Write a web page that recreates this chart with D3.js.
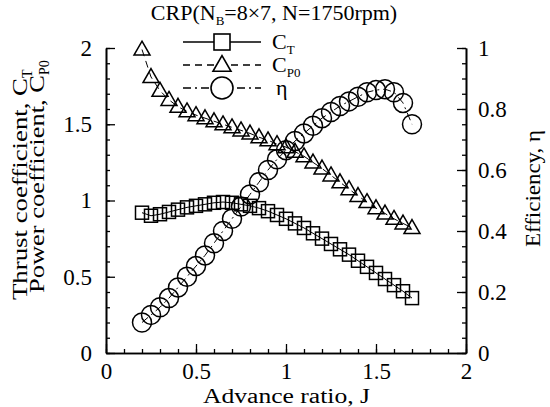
<!DOCTYPE html>
<html>
<head>
<meta charset="utf-8">
<script src="https://cdn.jsdelivr.net/npm/d3@7"></script>
<style>
  body { margin: 0; background: #fff; }
  svg { display: block; }
  svg text { font-family: "Liberation Serif", "Times New Roman", Times, "Nimbus Roman", "DejaVu Serif", serif; }
</style>
</head>
<body>
<svg id="chart" width="550" height="407"></svg>
<script>
// advance ratio J
const advance = [0.2, 0.25, 0.3, 0.35, 0.4, 0.45, 0.5, 0.55, 0.6, 0.65, 0.7, 0.75, 0.8, 0.85, 0.9, 0.95,
  1.0, 1.05, 1.1, 1.15, 1.2, 1.25, 1.3, 1.35, 1.4, 1.45, 1.5, 1.55, 1.6, 1.65, 1.7];
// thrust coefficient C_T
const thrust = [0.92, 0.9, 0.91, 0.925, 0.94, 0.955, 0.965, 0.975, 0.985, 0.99, 0.985, 0.975, 0.965, 0.95, 0.93, 0.905,
  0.88, 0.85, 0.82, 0.785, 0.75, 0.715, 0.68, 0.645, 0.605, 0.565, 0.525, 0.485, 0.445, 0.405, 0.36];
// power coefficient C_P0
const power = [1.99, 1.81, 1.72, 1.66, 1.615, 1.585, 1.56, 1.54, 1.52, 1.5, 1.48, 1.46, 1.44, 1.415, 1.395, 1.37,
  1.35, 1.32, 1.29, 1.25, 1.21, 1.165, 1.12, 1.075, 1.03, 0.99, 0.95, 0.915, 0.88, 0.85, 0.82];
// efficiency eta
const efficiency = [0.1, 0.125, 0.15, 0.18, 0.215, 0.25, 0.285, 0.32, 0.36, 0.4, 0.44, 0.48, 0.52, 0.56, 0.6, 0.635,
  0.665, 0.695, 0.72, 0.745, 0.77, 0.79, 0.81, 0.825, 0.84, 0.855, 0.862, 0.865, 0.855, 0.82, 0.75];

const xTicks = [0, 0.5, 1, 1.5, 2];
const leftTicks = [0, 0.5, 1, 1.5, 2];
const rightTicks = [0, 0.2, 0.4, 0.6, 0.8, 1];

const svg = d3.select("#chart");
const plotLeft = 106, plotRight = 466, plotTop = 48, plotBottom = 353;
const tickFont = 23, labelFont = 20, titleFont = 22;

const x = d3.scaleLinear().domain([0, 2]).range([plotLeft, plotRight]);
const yL = d3.scaleLinear().domain([0, 2]).range([plotBottom, plotTop]);
const yR = d3.scaleLinear().domain([0, 1]).range([plotBottom, plotTop]);

const minors = (lo, hi, step) => d3.range(Math.round((hi - lo) / step) + 1).map((i) => +(lo + i * step).toFixed(3));

// axes
const styleAxis = (g) => {
  g.attr("font-family", null);
  g.select(".domain").attr("stroke-width", 1.6);
  g.selectAll(".tick line").attr("stroke-width", 1.3);
  g.selectAll("text").attr("font-size", tickFont).attr("fill", "#000");
};

svg.append("g").attr("transform", `translate(${plotLeft},0)`)
  .call(d3.axisLeft(yL).tickValues(minors(0, 2, 0.1)).tickSize(-4).tickSizeOuter(0).tickFormat(""))
  .call(styleAxis);
svg.append("g").attr("transform", `translate(${plotLeft},0)`)
  .call(d3.axisLeft(yL).tickValues(leftTicks).tickSize(-9).tickSizeOuter(0).tickPadding(14).tickFormat(d3.format("")))
  .call(styleAxis);

svg.append("g").attr("transform", `translate(${plotRight},0)`)
  .call(d3.axisRight(yR).tickValues(minors(0, 1, 0.05)).tickSize(-4).tickSizeOuter(0).tickFormat(""))
  .call(styleAxis);
svg.append("g").attr("transform", `translate(${plotRight},0)`)
  .call(d3.axisRight(yR).tickValues(rightTicks).tickSize(-9).tickSizeOuter(0).tickPadding(12).tickFormat(d3.format("")))
  .call(styleAxis);

svg.append("g").attr("transform", `translate(0,${plotBottom})`)
  .call(d3.axisBottom(x).tickValues(minors(0, 2, 0.1)).tickSize(-4).tickSizeOuter(0).tickFormat(""))
  .call(styleAxis);
svg.append("g").attr("transform", `translate(0,${plotBottom})`)
  .call(d3.axisBottom(x).tickValues(xTicks).tickSize(-9).tickSizeOuter(0).tickPadding(10).tickFormat(d3.format("")))
  .call(styleAxis);

// series
const rows = advance.map((j, i) => ({ j, ct: thrust[i], cp: power[i], eta: efficiency[i] }));
const series = [
  { key: "ct", y: yL, dash: null, shape: "square" },
  { key: "cp", y: yL, dash: "7,5", shape: "triangle" },
  { key: "eta", y: yR, dash: "8,4,2,4", shape: "circle" },
];

const marker = (g, shape, cx, cy, s) => {
  if (shape === "circle") {
    g.append("circle").attr("cx", cx).attr("cy", cy).attr("r", s / 2);
  } else if (shape === "square") {
    g.append("rect").attr("x", cx - s / 2).attr("y", cy - s / 2).attr("width", s).attr("height", s);
  } else {
    const h = s * 0.87;
    g.append("path").attr("d", `M${cx},${cy - h * 0.6}L${cx + s / 2},${cy + h * 0.4}L${cx - s / 2},${cy + h * 0.4}Z`);
  }
};
const sizes = { square: 13, triangle: 16, circle: 19 };

series.forEach((s) => {
  const line = d3.line().x((d) => x(d.j)).y((d) => s.y(d[s.key]));
  svg.append("path").datum(rows)
    .attr("fill", "none").attr("stroke", "#000").attr("stroke-width", 1)
    .attr("stroke-dasharray", s.dash)
    .attr("d", line);
  const g = svg.append("g").attr("fill", "none").attr("stroke", "#000").attr("stroke-width", 1.5);
  rows.forEach((d) => marker(g, s.shape, x(d.j), s.y(d[s.key]), sizes[s.shape]));
});

// legend
const legendRows = [
  { shape: "square", dash: null, label: "C", sub: "T", y: 42 },
  { shape: "triangle", dash: "7,5", label: "C", sub: "P0", y: 65 },
  { shape: "circle", dash: "8,4,2,4", label: "\u03b7", sub: "", y: 88 },
];
const legendSizes = { square: 16, triangle: 18, circle: 22 };
legendRows.forEach((r) => {
  svg.append("line").attr("x1", 183).attr("x2", 261).attr("y1", r.y).attr("y2", r.y)
    .attr("stroke", "#000").attr("stroke-width", 1.4).attr("stroke-dasharray", r.dash);
  const g = svg.append("g").attr("fill", "#fff").attr("stroke", "#000").attr("stroke-width", 1.6);
  marker(g, r.shape, 222, r.y, legendSizes[r.shape]);
  const t = svg.append("text").attr("x", r.sub ? 272 : 276).attr("y", r.y + 7).attr("font-size", titleFont);
  t.append("tspan").text(r.label);
  if (r.sub) t.append("tspan").attr("font-size", 13).attr("dy", 5).text(r.sub);
});

// title
const title = svg.append("text").attr("x", 274).attr("y", 20).attr("text-anchor", "middle").attr("font-size", titleFont);
title.append("tspan").text("CRP(N");
title.append("tspan").attr("font-size", 13).attr("dy", 5).text("B");
title.append("tspan").attr("dy", -5).text("=8\u00d77, N=1750rpm)");

// axis titles (the reference type is drawn a little wide, so stretch to its length)
const label = (xPos, yPos, angle, txt, len, sub) => {
  const t = svg.append("text").attr("transform", `translate(${xPos},${yPos}) rotate(${angle})`)
    .attr("font-size", labelFont);
  t.append("tspan").attr("textLength", len).attr("lengthAdjust", "spacingAndGlyphs").text(txt);
  if (sub) t.append("tspan").attr("font-size", 14).attr("dy", 5).text(sub);
};
label(27, 300, -90, "Thrust coefficient, C", 222, "T");
label(44, 293, -90, "Power coefficient, C", 218, "P0");
label(540, 247, -90, "Efficiency, \u03b7", 117, "");
label(203, 403, 0, "Advance ratio, J", 167, "");
</script>
</body>
</html>
